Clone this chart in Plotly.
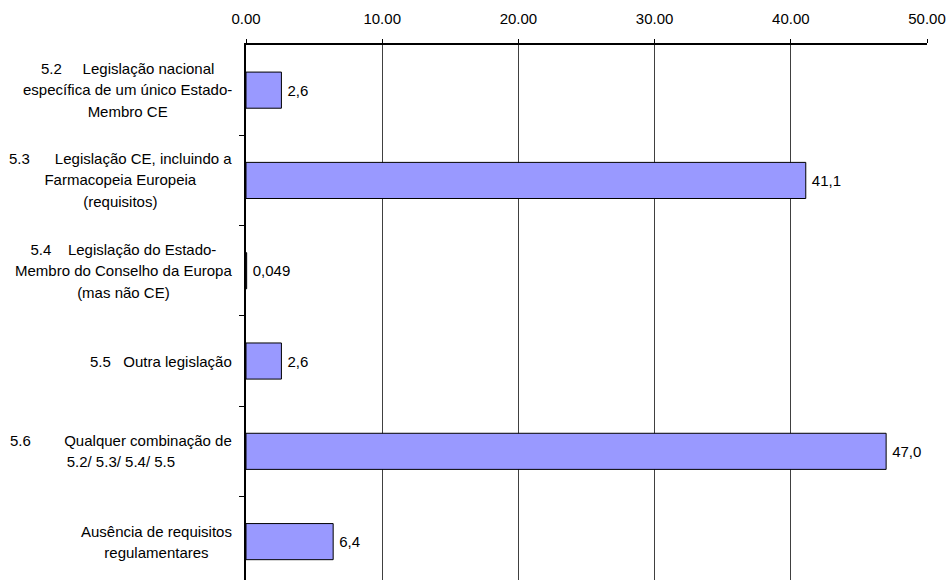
import plotly.graph_objects as go

# Categories (top to bottom) and their percentages
categories = [
    "5.2\u00a0\u00a0\u00a0\u00a0\u00a0Legislação nacional<br>específica de um único Estado-<br>Membro CE",
    "5.3\u00a0\u00a0\u00a0\u00a0\u00a0\u00a0Legislação CE, incluindo a<br>Farmacopeia Europeia<br>(requisitos)",
    "5.4\u00a0\u00a0\u00a0\u00a0Legislação do Estado-<br>Membro do Conselho da Europa<br>(mas não CE)",
    "5.5\u00a0\u00a0\u00a0Outra legislação",
    "5.6\u00a0\u00a0\u00a0\u00a0\u00a0\u00a0\u00a0\u00a0Qualquer combinação de<br>5.2/ 5.3/ 5.4/ 5.5",
    "Ausência de requisitos<br>regulamentares",
]
values = [2.6, 41.1, 0.049, 2.6, 47.0, 6.4]
x_ticks = [0, 10, 20, 30, 40, 50]


def fmt(v):
    s = f"{v:.3f}" if v < 0.1 else f"{v:.1f}"
    return "\u2009" + s.replace(".", ",")


def spaced(label, size=15):
    # wrap each line in a span so glyphs render at `size` while the
    # annotation's larger base font sets a looser line pitch
    return "<br>".join(
        f"<span style='font-size:{size}px'>{line}</span>" for line in label.split("<br>")
    )


positions = list(range(len(categories)))
FONT = "Liberation Sans, Arial, sans-serif"

fig = go.Figure(
    go.Bar(
        x=values,
        y=positions,
        orientation="h",
        width=0.4,
        marker=dict(color="#9999FF", line=dict(color="#000000", width=1)),
        text=[fmt(v) for v in values],
        textposition="outside",
        textfont=dict(family=FONT, size=15, color="#000000"),
        cliponaxis=False,
        hoverinfo="skip",
    )
)

# Category labels drawn to the left of the axis, centred line by line
for pos, label in zip(positions, categories):
    fig.add_annotation(
        x=-0.018, xref="paper", xanchor="right",
        y=pos, yref="y", yanchor="middle",
        text=spaced(label), align="center", showarrow=False,
        font=dict(family=FONT, size=16.5, color="#000000"),
    )

fig.update_layout(
    width=947,
    height=580,
    margin=dict(l=246, r=20, t=45, b=0),
    paper_bgcolor="#FFFFFF",
    plot_bgcolor="#FFFFFF",
    showlegend=False,
    font=dict(family=FONT, size=15, color="#000000"),
    xaxis=dict(
        side="top",
        range=[0, 50],
        tickvals=x_ticks,
        tickformat=".2f",
        ticks="outside",
        ticklen=4,
        tickcolor="#000000",
        ticklabelstandoff=9,
        showline=True,
        linecolor="#000000",
        linewidth=1.5,
        showgrid=True,
        gridcolor="#404040",
        gridwidth=1,
        zeroline=False,
        tickfont=dict(family=FONT, size=15, color="#000000"),
    ),
    yaxis=dict(
        range=[5.425, -0.5],
        tickvals=[0.5, 1.5, 2.5, 3.5, 4.5],
        showticklabels=False,
        ticks="outside",
        ticklen=5,
        tickcolor="#000000",
        showline=True,
        linecolor="#000000",
        linewidth=1.5,
        showgrid=False,
        zeroline=False,
    ),
)

fig.write_html("out.html")
